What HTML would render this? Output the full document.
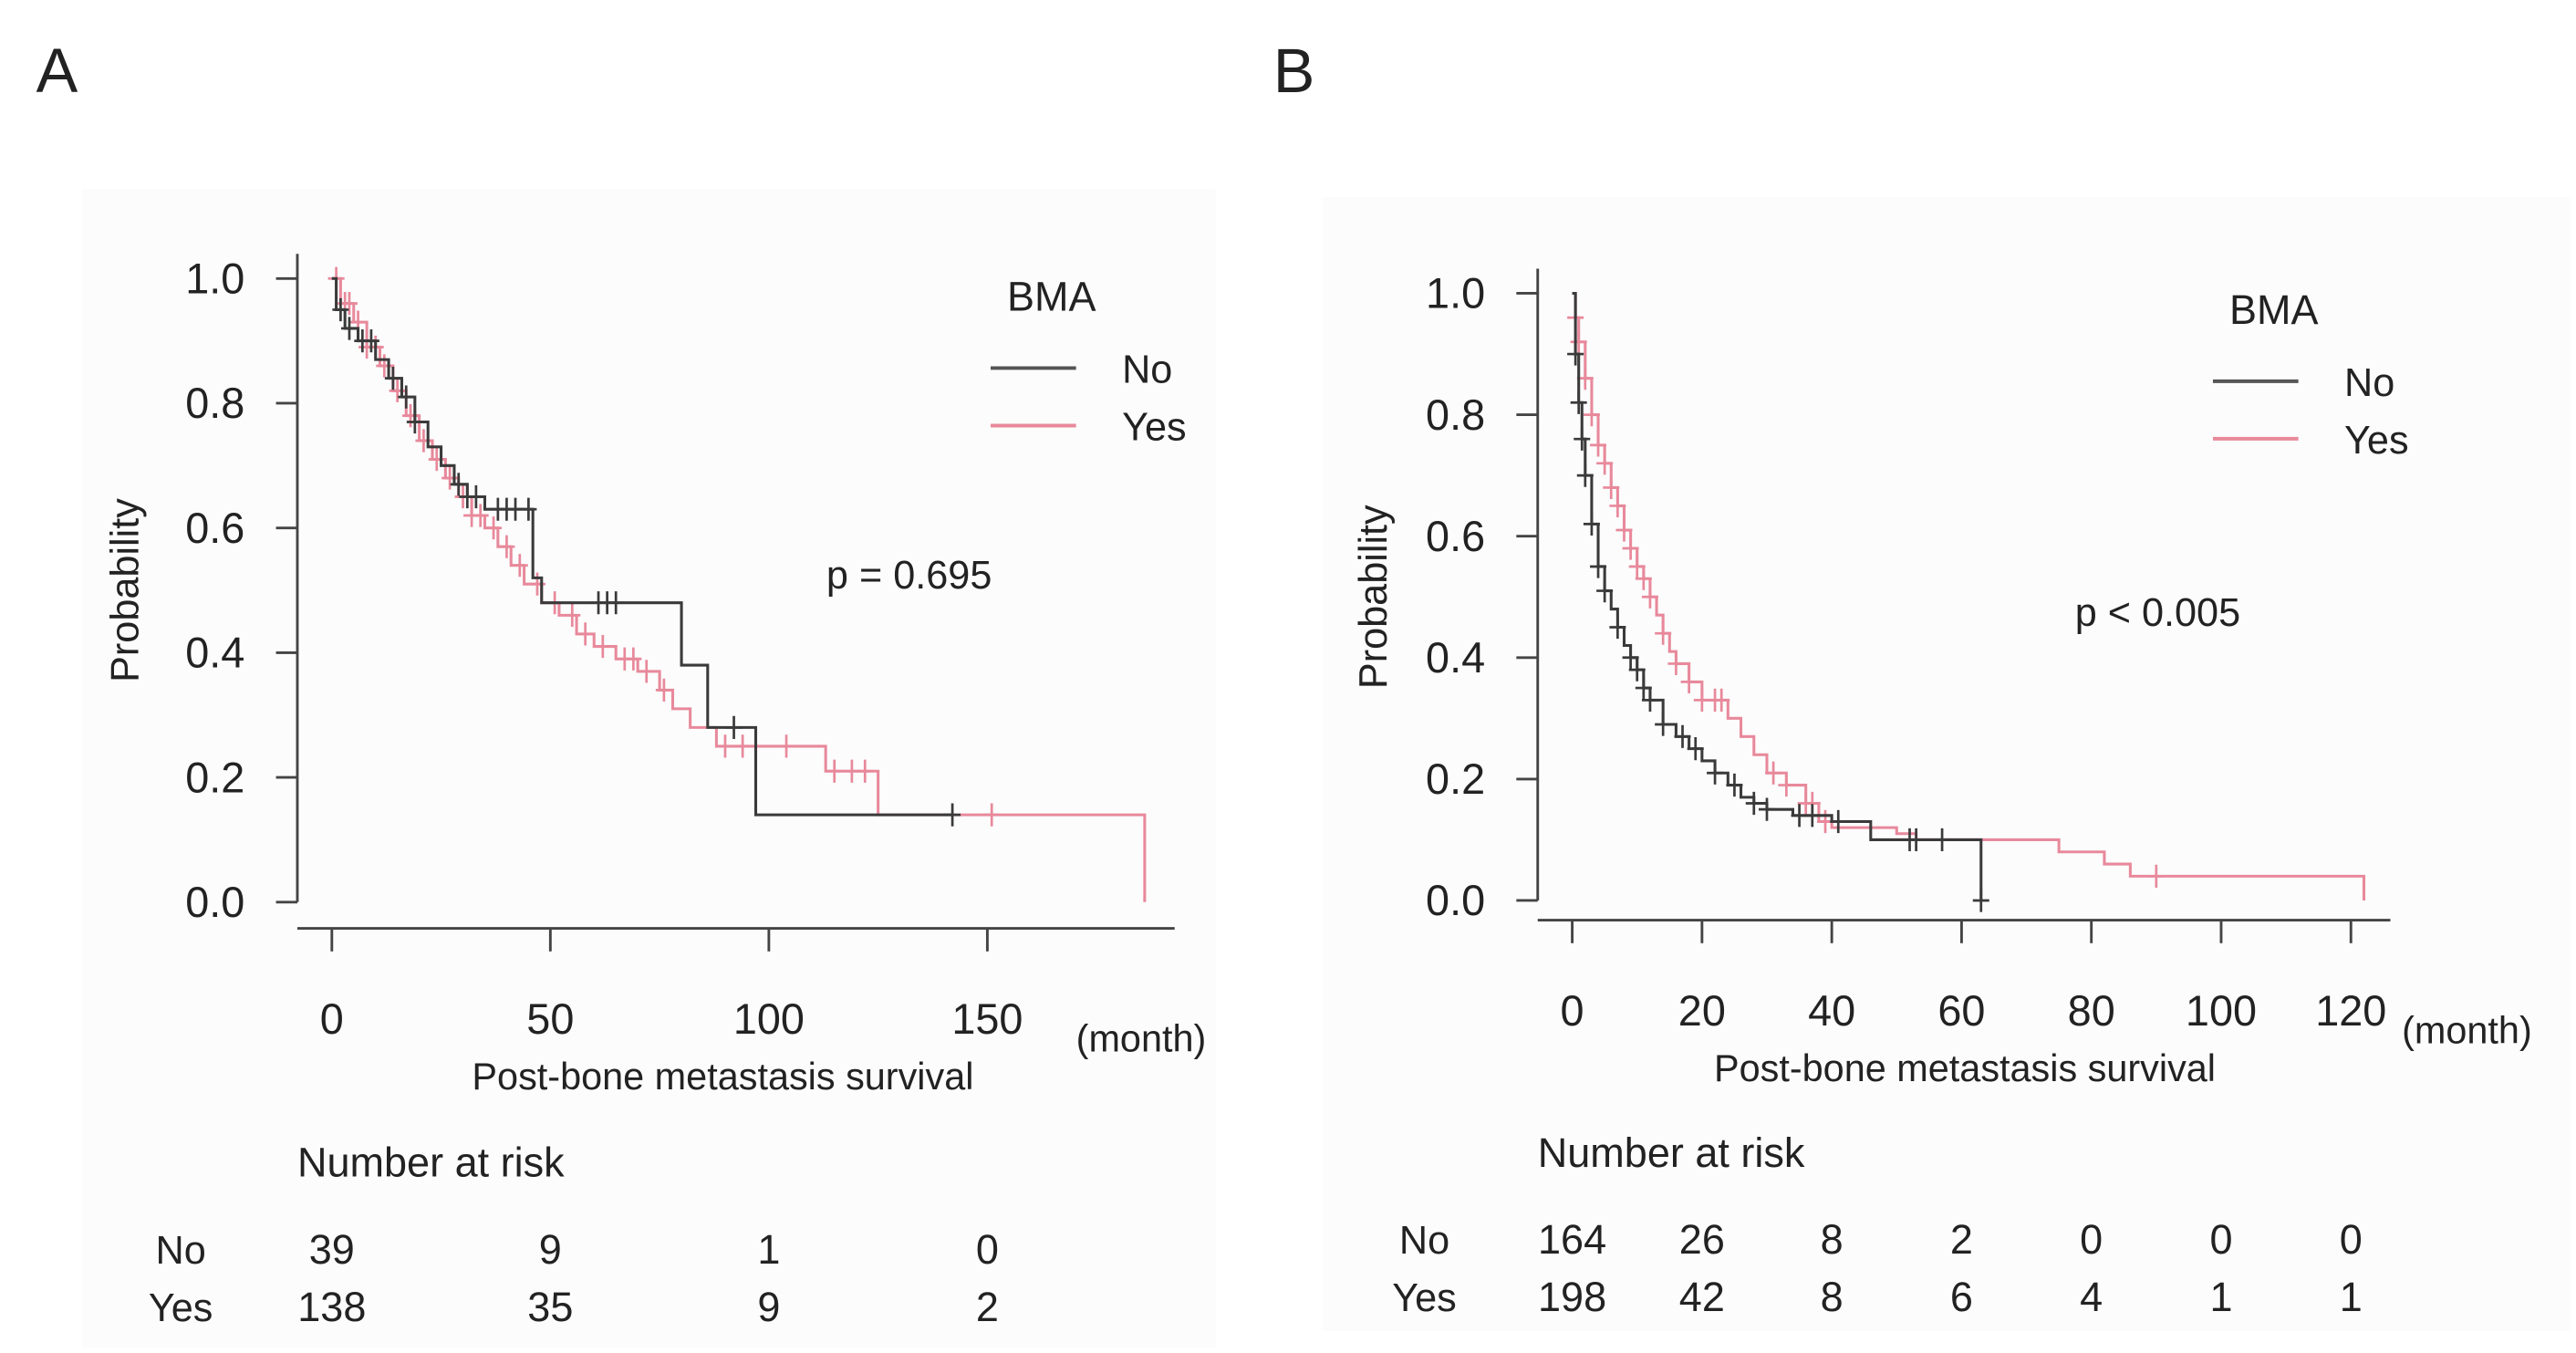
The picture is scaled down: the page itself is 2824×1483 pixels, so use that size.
<!DOCTYPE html>
<html><head><meta charset="utf-8"><style>
html,body{margin:0;padding:0;background:#fff;}
svg{display:block;}
text{font-family:"Liberation Sans",Arial,sans-serif;fill:#222;}
</style></head><body>
<svg id="fig" width="2824" height="1483" viewBox="0 0 1568 823.4" preserveAspectRatio="none">
<rect x="50" y="115" width="690" height="705" fill="#fcfcfc"/>
<rect x="805" y="120" width="760" height="690" fill="#fcfcfc"/>
<text x="22" y="56" font-size="38">A</text>
<text x="775" y="56" font-size="38">B</text>
<g id="pa"></g>
<g id="pb"></g>
</svg>
<script>
// Panel A data
const aTicksX = [0, 50, 100, 150];
const aTicksY = [0, 0.2, 0.4, 0.6, 0.8, 1.0];
const aNoT = [0, 1, 3, 6, 10, 13, 16, 19, 22, 25, 28, 31, 35, 46, 48, 80, 86, 97, 142];
const aNoS = [1.0, 0.95, 0.92, 0.90, 0.87, 0.84, 0.81, 0.77, 0.73, 0.70, 0.67, 0.65, 0.63, 0.52, 0.48, 0.38, 0.28, 0.14, 0.14];
const aNoCens = [2, 4, 7, 9, 14, 17, 19, 29, 31, 33, 38, 40, 42, 45, 61, 63, 65, 92, 142];
const aYesT = [0, 2, 5, 8, 11, 14, 17, 20, 23, 26, 29, 32, 35, 38, 41, 44, 48, 52, 56, 60, 65, 70, 75, 78, 82, 88, 100, 113, 125, 186];
const aYesS = [1.0, 0.96, 0.93, 0.89, 0.86, 0.82, 0.78, 0.74, 0.71, 0.68, 0.65, 0.62, 0.60, 0.57, 0.54, 0.51, 0.48, 0.46, 0.43, 0.41, 0.39, 0.37, 0.34, 0.31, 0.28, 0.25, 0.25, 0.21, 0.14, 0.0];
const aYesCens = [1, 3, 4, 6, 8, 10, 12, 15, 18, 21, 24, 27, 30, 32, 34, 37, 40, 43, 47, 51, 55, 58, 62, 67, 69, 72, 76, 90, 94, 104, 115, 119, 122, 151];
const aRiskNo = [39, 9, 1, 0];
const aRiskYes = [138, 35, 9, 2];
// Panel B data
const bTicksX = [0, 20, 40, 60, 80, 100, 120];
const bTicksY = [0, 0.2, 0.4, 0.6, 0.8, 1.0];
const bNoT = [0, 0.5, 1, 1.5, 2, 3, 4, 5, 6, 7, 8, 9, 10, 11, 12, 14, 16, 18, 20, 22, 24, 26, 28, 30, 34, 40, 46, 63];
const bNoS = [1.0, 0.90, 0.82, 0.76, 0.70, 0.62, 0.55, 0.51, 0.48, 0.45, 0.42, 0.40, 0.38, 0.35, 0.33, 0.29, 0.27, 0.25, 0.23, 0.21, 0.19, 0.17, 0.16, 0.15, 0.14, 0.13, 0.10, 0.0];
const bNoCens = [0.5, 1, 1.5, 2, 3, 4, 5, 7, 9, 10, 11, 12, 14, 17, 19, 22, 25, 28, 30, 35, 37, 41, 52, 53, 57, 63];
const bYesT = [0, 0.5, 1, 2, 3, 4, 5, 6, 7, 8, 9, 10, 11, 12, 13, 14, 15, 16, 18, 20, 24, 26, 28, 30, 33, 36, 38, 40, 50, 53, 75, 82, 86, 122];
const bYesS = [1.0, 0.96, 0.92, 0.86, 0.80, 0.75, 0.72, 0.68, 0.65, 0.61, 0.58, 0.55, 0.53, 0.50, 0.47, 0.44, 0.41, 0.39, 0.36, 0.33, 0.30, 0.27, 0.24, 0.21, 0.19, 0.16, 0.13, 0.12, 0.11, 0.10, 0.08, 0.06, 0.04, 0.0];
const bYesCens = [0.5, 1, 2, 3, 4, 5, 6, 7, 8, 9, 10, 11, 12, 14, 16, 18, 20, 22, 23, 31, 33, 36, 37, 39, 90];
const bRiskNo = [164, 26, 8, 2, 0, 0, 0];
const bRiskYes = [198, 42, 8, 6, 4, 1, 1];

const NS = "http://www.w3.org/2000/svg";
function mk(parent, tag, attrs, txt) {
  const e = document.createElementNS(NS, tag);
  for (const k in attrs) e.setAttribute(k, attrs[k]);
  if (txt !== undefined) e.textContent = txt;
  parent.appendChild(e);
  return e;
}
function stepS(T, S, t) { let s = S[0]; for (let i = 0; i < T.length; i++) { if (T[i] <= t) s = S[i]; } return s; }

function panel(g, cfg) {
  const X = t => cfg.x0 + (t - cfg.xmin) * cfg.xs;
  const Y = s => cfg.y0 - s * cfg.ys;
  const ax = "#444";
  let e;
  e = mk(g, "line", {x1: cfg.axX, y1: Y(1) - 15, x2: cfg.axX, y2: Y(0), stroke: ax, "stroke-width": 1.6});
  
  
  e = mk(g, "line", {x1: cfg.axX, y1: cfg.axY, x2: cfg.axXend, y2: cfg.axY, stroke: ax, "stroke-width": 1.6});
  
  
  cfg.ty.forEach(v => {
    const t = mk(g, "line", {x1: cfg.axX - 13, y1: Y(v), x2: cfg.axX, y2: Y(v), stroke: ax, "stroke-width": 1.6});
    
    
    const l = mk(g, "text", {x: cfg.axX - 32, y: Y(v) + 9, "font-size": 26, "text-anchor": "end"}, v.toFixed(1));
    
    
  });
  cfg.tx.forEach(v => {
    const t = mk(g, "line", {x1: X(v), y1: cfg.axY, x2: X(v), y2: cfg.axY + 14, stroke: ax, "stroke-width": 1.6});
    
    
    const l = mk(g, "text", {x: X(v), y: cfg.axY + 64, "font-size": 26, "text-anchor": "middle"}, String(v));
    
    
  });
  e = mk(g, "text", {x: cfg.monthX, y: cfg.axY + 75, "font-size": 23}, "(month)");
  
  
  e = mk(g, "text", {x: cfg.titleX, y: cfg.axY + 98, "font-size": 23, "text-anchor": "middle", fill: "#444"}, "Post-bone metastasis survival");
  
  
  e = mk(g, "text", {x: 0, y: 0, "font-size": 24, "text-anchor": "middle", transform: `translate(${cfg.ylabX},${(Y(0) + Y(1)) / 2}) rotate(-90)`}, "Probability");
  
  

  function curve(T, S, C, color, name) {
    let d = `M${X(T[0])},${Y(S[0])}`;
    for (let i = 1; i < T.length; i++) { d += ` H${X(T[i])} V${Y(S[i])}`; }
    const p = mk(g, "path", {d: d, fill: "none", stroke: color, "stroke-width": 1.7});
    
    
    C.forEach(t => {
      const cx = X(t), cy = Y(stepS(T, S, t));
      const m = mk(g, "path", {d: `M${cx - 5},${cy} H${cx + 5} M${cx},${cy - 7} V${cy + 7}`, stroke: color, "stroke-width": 1.5, fill: "none"});
      
      
    });
  }
  curve(cfg.yesT, cfg.yesS, cfg.yesC, "#e8899b", "yes");
  curve(cfg.noT, cfg.noS, cfg.noC, "#3a3a3a", "no");

  const L = cfg.leg;
  e = mk(g, "text", {x: L.x + 10, y: L.y, "font-size": 25}, "BMA");
  
  
  e = mk(g, "line", {x1: L.x, y1: L.y + 35, x2: L.x + 52, y2: L.y + 35, stroke: "#555", "stroke-width": 2.2});
  
  
  e = mk(g, "text", {x: L.x + 80, y: L.y + 44, "font-size": 24}, "No");
  
  
  e = mk(g, "line", {x1: L.x, y1: L.y + 70, x2: L.x + 52, y2: L.y + 70, stroke: "#e88a9a", "stroke-width": 2.2});
  
  
  e = mk(g, "text", {x: L.x + 80, y: L.y + 79, "font-size": 24}, "Yes");
  
  
  e = mk(g, "text", {x: cfg.pX, y: cfg.pY, "font-size": 24, fill: "#333"}, cfg.pTxt);
  
  

  e = mk(g, "text", {x: cfg.axX, y: cfg.riskY, "font-size": 25}, "Number at risk");
  
  
  e = mk(g, "text", {x: cfg.rowLabX, y: cfg.riskY + 53, "font-size": 24, "text-anchor": "middle", fill: "#333"}, "No");
  
  
  e = mk(g, "text", {x: cfg.rowLabX, y: cfg.riskY + 88, "font-size": 24, "text-anchor": "middle", fill: "#333"}, "Yes");
  
  
  cfg.tx.forEach((v, i) => {
    const a = mk(g, "text", {x: X(v), y: cfg.riskY + 53, "font-size": 25, "text-anchor": "middle"}, String(cfg.rNo[i]));
    
    
    const b = mk(g, "text", {x: X(v), y: cfg.riskY + 88, "font-size": 25, "text-anchor": "middle"}, String(cfg.rYes[i]));
    
    
  });
}

panel(document.getElementById("pa"), {
  x0: 202, xmin: 0, xs: 2.66, y0: 549, ys: 379.5, axX: 181, axY: 565, axXend: 715,
  tx: aTicksX, ty: aTicksY, monthX: 655, titleX: 440, ylabX: 84,
  noT: aNoT, noS: aNoS, noC: aNoCens, yesT: aYesT, yesS: aYesS, yesC: aYesCens,
  leg: {x: 603, y: 189}, pX: 503, pY: 358, pTxt: "p = 0.695",
  riskY: 716, rowLabX: 110, rNo: aRiskNo, rYes: aRiskYes
});
panel(document.getElementById("pb"), {
  x0: 957, xmin: 0, xs: 3.95, y0: 548, ys: 369.5, axX: 936, axY: 560, axXend: 1455,
  tx: bTicksX, ty: bTicksY, monthX: 1462, titleX: 1196, ylabX: 844,
  noT: bNoT, noS: bNoS, noC: bNoCens, yesT: bYesT, yesS: bYesS, yesC: bYesCens,
  leg: {x: 1347, y: 197}, pX: 1263, pY: 381, pTxt: "p < 0.005",
  riskY: 710, rowLabX: 867, rNo: bRiskNo, rYes: bRiskYes
});
</script>
</body></html>
